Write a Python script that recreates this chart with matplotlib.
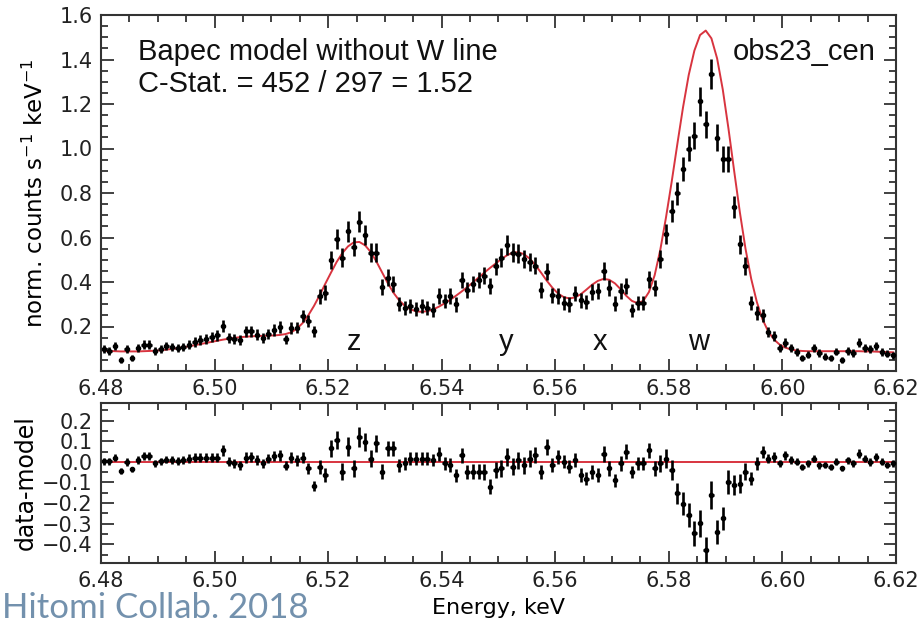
import numpy as np
import matplotlib
matplotlib.use("Agg")
import matplotlib.pyplot as plt
import matplotlib.ticker as ticker

# -------------------------------
# Data (1 eV bins, 6.480 - 6.620 keV)
# -------------------------------
e_start = 6.480
bin_width = 0.001
n_bins = 140
energy = np.round(e_start + bin_width * (np.arange(n_bins) + 0.5), 4)

counts = [
    0.100, 0.092, 0.112, 0.049, 0.097, 0.059, 0.104, 0.119, 0.119, 0.089,
    0.100, 0.112, 0.107, 0.104, 0.109, 0.119, 0.130, 0.139, 0.145, 0.154,
    0.160, 0.202, 0.149, 0.145, 0.139, 0.179, 0.179, 0.164, 0.149, 0.167,
    0.184, 0.199, 0.142, 0.194, 0.195, 0.247, 0.224, 0.179, 0.335, 0.352,
    0.500, 0.592, 0.510, 0.627, 0.558, 0.670, 0.610, 0.532, 0.532, 0.377,
    0.419, 0.389, 0.300, 0.284, 0.292, 0.280, 0.292, 0.284, 0.274, 0.337,
    0.314, 0.337, 0.299, 0.408, 0.363, 0.389, 0.408, 0.428, 0.381, 0.470,
    0.510, 0.565, 0.532, 0.528, 0.504, 0.490, 0.474, 0.363, 0.446, 0.340,
    0.337, 0.307, 0.299, 0.348, 0.318, 0.310, 0.355, 0.359, 0.449, 0.374,
    0.303, 0.359, 0.383, 0.273, 0.305, 0.305, 0.412, 0.374, 0.502, 0.614,
    0.720, 0.798, 0.907, 1.000, 1.057, 1.212, 1.109, 1.334, 1.049, 0.952,
    0.952, 0.738, 0.569, 0.472, 0.307, 0.260, 0.250, 0.175, 0.157, 0.104,
    0.127, 0.104, 0.085, 0.059, 0.074, 0.104, 0.082, 0.065, 0.059, 0.087,
    0.048, 0.089, 0.082, 0.127, 0.104, 0.097, 0.112, 0.085, 0.078, 0.070,
]

count_err = [
    0.018, 0.018, 0.019, 0.013, 0.018, 0.014, 0.019, 0.020, 0.020, 0.017,
    0.018, 0.019, 0.019, 0.019, 0.019, 0.020, 0.021, 0.022, 0.022, 0.023,
    0.023, 0.026, 0.022, 0.022, 0.022, 0.025, 0.025, 0.023, 0.022, 0.024,
    0.025, 0.026, 0.022, 0.026, 0.026, 0.029, 0.027, 0.025, 0.034, 0.034,
    0.041, 0.045, 0.041, 0.046, 0.043, 0.047, 0.045, 0.042, 0.042, 0.036,
    0.038, 0.036, 0.032, 0.031, 0.031, 0.031, 0.031, 0.031, 0.030, 0.034,
    0.032, 0.034, 0.032, 0.037, 0.035, 0.036, 0.037, 0.038, 0.036, 0.040,
    0.041, 0.044, 0.042, 0.042, 0.041, 0.041, 0.040, 0.035, 0.039, 0.034,
    0.034, 0.032, 0.032, 0.034, 0.033, 0.032, 0.035, 0.035, 0.039, 0.035,
    0.032, 0.035, 0.036, 0.030, 0.032, 0.032, 0.037, 0.035, 0.041, 0.045,
    0.049, 0.052, 0.055, 0.058, 0.060, 0.064, 0.061, 0.067, 0.059, 0.057,
    0.057, 0.050, 0.044, 0.040, 0.032, 0.030, 0.029, 0.024, 0.023, 0.019,
    0.021, 0.019, 0.017, 0.014, 0.016, 0.019, 0.017, 0.015, 0.014, 0.017,
    0.013, 0.017, 0.017, 0.021, 0.019, 0.018, 0.019, 0.017, 0.016, 0.015,
]

model = [
    0.090, 0.090, 0.089, 0.088, 0.088, 0.088, 0.088, 0.089, 0.090, 0.091,
    0.093, 0.096, 0.099, 0.103, 0.107, 0.111, 0.116, 0.121, 0.126, 0.131,
    0.136, 0.141, 0.145, 0.149, 0.152, 0.154, 0.156, 0.157, 0.158, 0.159,
    0.160, 0.162, 0.166, 0.174, 0.190, 0.215, 0.250, 0.292, 0.340, 0.392,
    0.442, 0.490, 0.530, 0.560, 0.578, 0.580, 0.565, 0.535, 0.492, 0.443,
    0.395, 0.352, 0.318, 0.293, 0.277, 0.268, 0.266, 0.269, 0.277, 0.289,
    0.304, 0.320, 0.338, 0.357, 0.377, 0.398, 0.420, 0.442, 0.463, 0.483,
    0.503, 0.520, 0.532, 0.534, 0.525, 0.505, 0.476, 0.442, 0.406, 0.374,
    0.348, 0.332, 0.326, 0.331, 0.345, 0.366, 0.388, 0.405, 0.414, 0.410,
    0.394, 0.368, 0.338, 0.315, 0.305, 0.315, 0.355, 0.430, 0.545, 0.690,
    0.850, 1.020, 1.185, 1.330, 1.440, 1.510, 1.530, 1.495, 1.405, 1.265,
    1.090, 0.900, 0.715, 0.550, 0.415, 0.310, 0.232, 0.178, 0.142, 0.119,
    0.105, 0.097, 0.092, 0.090, 0.089, 0.089, 0.089, 0.089, 0.089, 0.089,
    0.089, 0.089, 0.089, 0.089, 0.088, 0.088, 0.087, 0.086, 0.085, 0.084,
]

residual = [
    0.003, 0.003, 0.021, -0.044, 0.000, -0.037, 0.008, 0.027, 0.027, -0.008,
    0.003, 0.011, 0.008, 0.003, 0.008, 0.016, 0.021, 0.021, 0.021, 0.021,
    0.021, 0.056, 0.000, -0.008, -0.016, 0.021, 0.024, 0.008, -0.008, 0.016,
    0.027, 0.032, -0.019, 0.021, 0.008, 0.021, -0.032, -0.118, -0.024, -0.065,
    0.065, 0.105, -0.048, 0.073, -0.032, 0.121, 0.097, 0.016, 0.089, -0.048,
    0.065, 0.065, -0.016, -0.008, 0.016, 0.016, 0.016, 0.016, 0.008, 0.040,
    -0.008, -0.016, -0.065, 0.032, -0.048, -0.048, -0.048, -0.048, -0.121, -0.040,
    -0.032, 0.024, -0.024, 0.008, -0.016, 0.016, 0.032, -0.048, 0.073, -0.016,
    0.024, 0.000, -0.024, 0.008, -0.065, -0.081, -0.048, -0.065, 0.040, -0.032,
    -0.089, -0.008, 0.048, -0.048, -0.008, -0.008, 0.056, -0.032, -0.008, 0.016,
    -0.040, -0.153, -0.202, -0.258, -0.347, -0.298, -0.427, -0.161, -0.339, -0.274,
    -0.097, -0.113, -0.105, -0.048, -0.081, -0.008, 0.048, 0.016, 0.024, -0.008,
    0.032, 0.008, 0.000, -0.024, -0.008, 0.016, -0.016, -0.016, -0.024, 0.000,
    -0.032, 0.008, -0.008, 0.040, 0.016, 0.000, 0.024, 0.000, -0.016, -0.008,
]

line_labels = ["z", "y", "x", "w"]
line_energies = [6.5246, 6.5514, 6.5679, 6.5852]

# -------------------------------
# Figure
# -------------------------------
plt.rcParams["font.family"] = "DejaVu Sans"
RED = "#d8343f"
FRAME = "#333333"

fig = plt.figure(figsize=(9.18, 6.25), dpi=100)
ax1 = fig.add_axes([0.110, 0.4064, 0.866, 0.5696])
ax2 = fig.add_axes([0.110, 0.0992, 0.866, 0.2560])

eb_kw = dict(fmt="o", ms=3, color="black", ecolor="black",
             elinewidth=1.9, capsize=0, xerr=0.0004, zorder=3)

ax1.errorbar(energy, counts, yerr=count_err, **eb_kw)
ax1.plot(energy, model, color=RED, lw=1.4, zorder=2)

ax2.errorbar(energy, residual, yerr=count_err, **eb_kw)
ax2.axhline(0.0, color=RED, lw=1.4, zorder=2)

# labels inside top panel
txt_kw = dict(family="Liberation Sans", fontsize=21, color="#111111")
ax1.text(0.046, 0.935, "Bapec model without W line", transform=ax1.transAxes,
         ha="left", va="top", **txt_kw)
ax1.text(0.046, 0.845, "C-Stat. = 452 / 297 = 1.52", transform=ax1.transAxes,
         ha="left", va="top", **txt_kw)
ax1.text(0.975, 0.935, "obs23_cen", transform=ax1.transAxes,
         ha="right", va="top", **txt_kw)
for lab, e in zip(line_labels, line_energies):
    ax1.text(e, 0.095, lab, ha="center", va="baseline", **txt_kw)

# axes styling
for ax in (ax1, ax2):
    ax.set_xlim(6.48, 6.62)
    ax.xaxis.set_major_locator(ticker.MultipleLocator(0.02))
    ax.xaxis.set_minor_locator(ticker.MultipleLocator(0.005))
    ax.xaxis.set_major_formatter(ticker.FormatStrFormatter("%.2f"))
    ax.tick_params(which="both", direction="in", top=True, right=True,
                   colors=FRAME, labelcolor="#222222", labelsize=15, width=1.3)
    ax.tick_params(which="major", length=9, pad=6)
    ax.tick_params(which="minor", length=5)
    for sp in ax.spines.values():
        sp.set_linewidth(1.5)
        sp.set_color(FRAME)

ax1.set_ylim(0.0, 1.6)
ax1.set_yticks([0.2, 0.4, 0.6, 0.8, 1.0, 1.2, 1.4, 1.6])
ax1.yaxis.set_minor_locator(ticker.MultipleLocator(0.05))
ax1.yaxis.set_major_formatter(ticker.FormatStrFormatter("%.1f"))
ax1.set_ylabel(r"norm. counts s$^{-1}$ keV$^{-1}$", fontsize=16.5, labelpad=8)

ax2.set_ylim(-0.49, 0.285)
ax2.set_yticks([-0.4, -0.3, -0.2, -0.1, 0.0, 0.1, 0.2])
ax2.yaxis.set_minor_locator(ticker.MultipleLocator(0.05))
ax2.yaxis.set_major_formatter(ticker.FuncFormatter(
    lambda v, p: f"{v:.1f}".replace("-", "\u2212")))
ax2.set_ylabel("data-model", fontsize=17, labelpad=3)
ax2.set_xlabel("Energy, keV", fontsize=16, labelpad=5)

# source credit, bottom-left corner
fig.text(0.002, 0.002, "Hitomi Collab. 2018", family="Lato", fontsize=25,
         color="#7391ad", ha="left", va="bottom")

fig.savefig("out.png", dpi=100)
